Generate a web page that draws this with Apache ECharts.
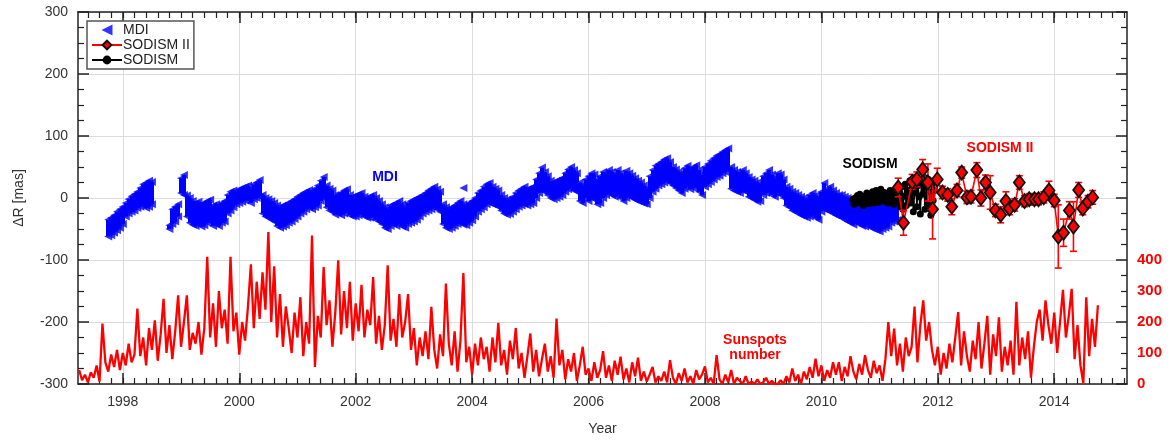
<!DOCTYPE html>
<html>
<head>
<meta charset="utf-8">
<script src="https://cdn.jsdelivr.net/npm/echarts@6/dist/echarts.min.js"></script>
<style>
html,body{margin:0;padding:0;background:#fff;}
#chart{width:1171px;height:443px;}
</style>
</head>
<body>
<div id="chart"></div>
<script>
// ---------------- DATA ----------------
// x-axis labelled years and tick values
const xLabelYears = [1998, 2000, 2002, 2004, 2006, 2008, 2010, 2012, 2014];
const sunLabelValues = [0, 100, 200, 300, 400];

// MDI band (upper / lower envelope of the dense MDI points), mas, sampled every 0.05 yr from 1997.75
const mdiStart = 1997.75;
const mdiStep = 0.05;
const mdiUpper = [
  -35,-32,-28,-22,-18,-14,-8,-2,3,6,10,16,22,24,28,26,null,null,null,null,
  null,-44,-18,-14,-10,32,37,4,0,-5,-8,-6,-10,-8,-5,-3,-12,-10,-12,-8,
  -5,5,10,12,10,14,16,18,20,15,22,25,29,5,0,-2,-5,-8,-12,-15,
  -12,-10,-8,-5,-2,2,5,8,10,13,10,15,20,28,34,20,15,12,5,5,
  8,12,14,5,2,4,6,8,2,0,3,5,0,-5,-10,-15,-18,-12,-10,-8,
  -5,-10,-15,-8,-5,-3,0,2,5,8,12,15,18,14,10,-10,-15,-18,-15,-12,
  -8,-5,-10,-12,-8,-5,0,8,12,18,22,24,18,15,12,5,0,-3,-2,2,
  8,12,15,18,14,16,18,30,40,49,42,35,28,25,28,30,32,40,46,50,
  45,40,25,20,30,35,40,38,30,35,42,40,45,42,38,45,40,35,44,40,
  36,32,28,25,20,15,35,45,52,55,58,62,64,58,50,46,42,40,48,52,
  46,50,53,45,38,50,55,60,64,68,70,74,77,80,50,45,42,40,45,40,
  34,30,28,25,22,35,40,45,38,32,40,38,30,18,15,10,8,5,2,0,
  -2,5,8,4,0,10,24,15,18,12,8,5,5,2,0,-3,-5,-5,-6,-8,
  -6,-10,-12,-9,-10,-12,-9,-10,-12,-10,-8,-12
];
const mdiLower = [
  -62,-60,-56,-52,-48,-42,-30,-25,-22,-20,-16,-14,-12,-16,-14,-10,null,null,null,null,
  null,-50,-42,-38,-30,8,5,-30,-40,-43,-45,-42,-46,-44,-40,-38,-45,-42,-45,-40,
  -38,-25,-20,-15,-10,-8,-6,-4,-2,-8,-2,0,2,-25,-30,-32,-35,-38,-45,-48,
  -46,-44,-40,-38,-34,-30,-25,-22,-18,-15,-18,-15,-12,-5,0,-15,-20,-22,-27,-25,
  -28,-25,-22,-28,-30,-30,-28,-25,-30,-32,-32,-30,-35,-38,-42,-48,-50,-45,-42,-45,
  -42,-46,-48,-42,-40,-38,-35,-30,-25,-22,-20,-18,-15,-18,-22,-42,-48,-50,-48,-45,
  -42,-40,-43,-44,-40,-36,-30,-22,-18,-15,-10,-8,-10,-12,-14,-20,-25,-27,-26,-22,
  -18,-14,-12,-10,-12,-10,-8,0,8,12,10,5,0,-2,0,2,5,10,14,16,
  12,10,-5,-8,0,-5,0,-2,-10,-8,0,5,8,5,2,5,0,-5,0,3,
  0,-3,-5,-7,-9,-10,0,10,15,20,22,25,28,24,20,16,12,8,15,20,
  14,16,18,10,5,18,22,26,30,34,36,40,42,45,15,12,10,8,12,10,
  2,0,-3,-6,-5,5,8,10,5,2,8,5,0,-12,-15,-20,-22,-25,-28,-30,
  -32,-30,-28,-32,-35,-22,-18,-20,-22,-25,-28,-30,-32,-35,-38,-40,-43,-40,-42,-45,
  -46,-44,-48,-50,-52,-54,-50,-48,-46,-40,-38,-36
];
const mdiOutlierYears = [2003.85];
const mdiOutlierValues = [16];

// SODISM (black), mas, every 0.02 yr from 2010.54
const sodStart = 2010.54;
const sodStep = 0.02;
const sodValues = [
  -2,-10,0,-8,4,-6,6,-4,2,-12,
  3,-6,8,-2,-9,5,-1,10,-8,2,
  12,0,-7,6,14,1,-5,9,-2,4,
  -8,6,12,-3,5,-10,9,0,15,-6,
  8,-14,18,-18,3,22,-12,12,-4,28,
  -8,16,-22,8,32,-14,20,2,-26,26,
  6,34,-18,18,-10,30,10,-28,22,-4,
  12
];

// SODISM II (red diamonds with error bars)
const sod2Years = [2011.32,2011.41,2011.56,2011.64,2011.74,2011.83,2011.91,2011.99,2012.08,2012.17,
  2012.24,2012.33,2012.41,2012.50,2012.57,2012.67,2012.74,2012.82,2012.90,2012.99,
  2013.08,2013.17,2013.23,2013.32,2013.40,2013.49,2013.57,2013.66,2013.73,2013.82,
  2013.91,2014.00,2014.07,2014.16,2014.26,2014.33,2014.42,2014.49,2014.58,2014.66];
const sod2Values = [17,-40,26,30,46,25,-18,30,9,5,
  -14,12,41,1,2,45,0,25,9,-20,
  -27,-5,-17,-11,25,-5,-2,-2,-2,1,
  12,-4,-62,-56,-20,-46,13,-17,-6,1];
const sod2Errors = [15,20,12,12,16,30,48,18,10,10,
  13,10,9,10,10,12,13,12,27,10,
  13,15,10,10,11,9,9,9,9,9,
  15,10,51,22,14,40,12,10,10,11];

// Sunspot number, every 0.05 yr from 1997.25
const sunStart = 1997.25;
const sunStep = 0.05;
const sunValues = [
  45,12,30,5,38,20,60,8,195,70,40,95,55,110,45,100,60,130,70,95,
  243,90,150,60,180,110,205,75,160,275,100,190,80,170,286,120,200,286,110,165,
  130,200,95,180,410,150,260,120,300,180,240,130,410,170,230,95,200,140,250,386,
  180,330,210,360,240,490,200,380,150,290,120,250,180,100,230,150,280,90,200,130,
  479,55,220,150,377,190,270,120,230,399,160,300,180,330,140,260,170,320,150,240,
  190,345,130,220,110,190,383,140,210,120,290,150,200,290,110,180,60,150,90,170,
  80,249,110,50,160,90,324,130,60,170,40,140,358,70,120,30,130,60,150,80,
  120,40,150,70,197,60,110,30,140,80,180,50,100,20,90,163,40,110,25,80,
  130,40,90,20,211,60,110,15,80,40,100,10,60,120,30,50,10,70,20,45,
  106,20,60,10,75,30,88,15,50,5,70,25,85,10,40,8,30,55,5,25,
  10,40,5,77,20,0,35,10,50,5,25,0,45,15,30,57,5,20,0,93,
  15,0,30,5,45,0,20,10,0,25,0,8,0,15,0,5,20,0,10,0,
  0,12,0,25,5,50,10,30,0,40,15,55,20,82,25,60,10,45,20,70,
  30,70,10,55,25,90,40,15,65,30,93,45,20,75,35,60,10,80,200,90,
  179,60,130,40,150,90,120,250,70,190,270,140,200,110,60,120,30,100,50,130,
  70,150,232,60,170,90,40,140,80,200,50,130,220,30,160,90,215,40,120,60,
  140,30,265,60,150,80,170,20,120,200,240,140,270,190,130,230,100,200,304,150,
  220,307,80,190,60,2,280,90,210,120,254
];

// ---------------- BUILD ----------------
const r4 = v => Math.round(v * 10000) / 10000;
const mdiBand = [];
const mdiPts = [];
mdiUpper.forEach((u, i) => {
  const lo = mdiLower[i];
  if (u === null || lo === null) return;
  const yr = r4(mdiStart + i * mdiStep);
  mdiBand.push([yr, u, lo]);
  mdiPts.push([yr, u]);
  mdiPts.push([yr, lo]);
});
mdiOutlierYears.forEach((y, i) => mdiPts.push([y, mdiOutlierValues[i]]));

const sodData = sodValues.map((v, i) => [r4(sodStart + i * sodStep), v]);
const sod2Data = sod2Years.map((y, i) => [y, sod2Values[i]]);
const sod2ErrData = sod2Years.map((y, i) => [y, sod2Values[i], sod2Errors[i]]);
const sunData = sunValues.map((v, i) => [r4(sunStart + i * sunStep), v]);

const xMinorTicks = [];
for (let k = 0; k < 100; k++) {
  const v = Math.round((1997.4 + 0.2 * k) * 10) / 10;
  if (v <= 2015.2) xMinorTicks.push(v);
}

const X_MIN = 1997.23, X_MAX = 2015.25;
const AX = '#222';
const TXT = '#333';
const FONT = "'Liberation Sans', Arial, sans-serif";
const triPath = 'path://M0,5 L10,0 L10,10 Z';

const chart = echarts.init(document.getElementById('chart'), null, {renderer: 'canvas'});

function baseX(extra) {
  return Object.assign({
    type: 'value', min: X_MIN, max: X_MAX, gridIndex: 0,
    axisLine: {show: false, onZero: false},
    axisTick: {show: false},
    axisLabel: {show: false},
    splitLine: {show: false}
  }, extra);
}

const option = {
  animation: false,
  backgroundColor: '#fff',
  textStyle: {fontFamily: FONT},
  grid: {left: 78, right: 44, top: 12, bottom: 59, containLabel: false, outerBoundsMode: 'none'},
  legend: {
    show: true,
    orient: 'vertical',
    left: 87, top: 21,
    padding: [2, 4, 2, 4],
    itemGap: 1,
    itemWidth: 30,
    itemHeight: 11,
    backgroundColor: '#fff',
    borderColor: '#555',
    borderWidth: 1.5,
    borderRadius: 0,
    textStyle: {fontSize: 14, color: '#222', fontFamily: FONT, lineHeight: 14, padding: [0, 0, 0, -4]},
    data: ['MDI', 'SODISM II', 'SODISM']
  },
  xAxis: [
    baseX({
      position: 'bottom',
      name: 'Year', nameLocation: 'middle', nameGap: 38,
      nameTextStyle: {fontSize: 14, color: TXT, fontFamily: FONT},
      axisLine: {show: true, onZero: false, lineStyle: {color: AX, width: 1.5}},
      axisTick: {show: true, inside: true, length: 11, customValues: xLabelYears, lineStyle: {color: AX, width: 1.5}},
      axisLabel: {show: true, customValues: xLabelYears, margin: 11, fontSize: 14, color: TXT, fontFamily: FONT,
        formatter: v => String(Math.round(v))},
      splitLine: {show: true, lineStyle: {color: '#dcdcdc', width: 1}}
    }),
    baseX({
      position: 'bottom',
      axisTick: {show: true, inside: true, length: 6, customValues: xMinorTicks, lineStyle: {color: AX, width: 1.2}}
    }),
    baseX({
      position: 'top',
      axisLine: {show: true, onZero: false, lineStyle: {color: AX, width: 1.5}},
      axisTick: {show: true, inside: true, length: 11, customValues: xLabelYears, lineStyle: {color: AX, width: 1.5}}
    }),
    baseX({
      position: 'top',
      axisTick: {show: true, inside: true, length: 6, customValues: xMinorTicks, lineStyle: {color: AX, width: 1.2}}
    })
  ],
  yAxis: [
    {
      type: 'value', position: 'left', min: -300, max: 300, interval: 100,
      name: 'ΔR [mas]', nameLocation: 'middle', nameGap: 52, nameRotate: 90,
      nameTextStyle: {fontSize: 14, color: TXT, fontFamily: FONT},
      axisLine: {show: true, onZero: false, lineStyle: {color: AX, width: 1.5}},
      axisTick: {show: true, inside: true, length: 11, lineStyle: {color: AX, width: 1.5}},
      minorTick: {show: true, splitNumber: 4, length: 6, lineStyle: {color: AX, width: 1.2}},
      axisLabel: {margin: 10, fontSize: 14, color: TXT, fontFamily: FONT},
      splitLine: {show: true, lineStyle: {color: '#dcdcdc', width: 1}}
    },
    {
      type: 'value', position: 'right', min: 0, max: 1200, interval: 100,
      axisLine: {show: false, onZero: false},
      axisTick: {show: false},
      axisLabel: {show: true, margin: 10, fontSize: 15, fontWeight: 'bold', color: '#ff0000', fontFamily: FONT,
        formatter: v => (sunLabelValues.indexOf(Math.round(v)) >= 0 ? String(Math.round(v)) : '')},
      splitLine: {show: false}
    },
    {
      type: 'value', position: 'right', min: -300, max: 300, interval: 100,
      axisLine: {show: true, onZero: false, lineStyle: {color: AX, width: 1.5}},
      axisTick: {show: true, inside: true, length: 11, lineStyle: {color: AX, width: 1.5}},
      minorTick: {show: true, splitNumber: 4, length: 6, lineStyle: {color: AX, width: 1.2}},
      axisLabel: {show: false},
      splitLine: {show: false}
    }
  ],
  series: [
    {
      name: 'Sunspots',
      type: 'line',
      xAxisIndex: 0, yAxisIndex: 1,
      data: sunData,
      showSymbol: false, symbol: 'none',
      lineStyle: {color: '#ff0000', width: 2.3},
      z: 1,
      silent: true
    },
    {
      name: 'MDI band',
      type: 'custom',
      xAxisIndex: 0, yAxisIndex: 0,
      data: mdiBand,
      encode: {x: 0, y: [1, 2]},
      renderItem: function (params, api) {
        const x = api.value(0), hi = api.value(1), lo = api.value(2);
        const p1 = api.coord([x - mdiStep / 2, hi]);
        const p2 = api.coord([x + mdiStep / 2, lo]);
        return {type: 'rect', shape: {x: Math.floor(p1[0]), y: p1[1], width: Math.ceil(p2[0] - p1[0]) + 1, height: p2[1] - p1[1]},
          style: {fill: '#0000ff'}};
      },
      z: 2,
      silent: true
    },
    {
      name: 'MDI',
      type: 'scatter',
      xAxisIndex: 0, yAxisIndex: 0,
      data: mdiPts,
      symbol: triPath,
      symbolSize: [8, 8],
      itemStyle: {color: '#0000ff'},
      z: 3,
      silent: true
    },
    {
      name: 'SODISM',
      type: 'line',
      xAxisIndex: 0, yAxisIndex: 0,
      data: sodData,
      symbol: 'circle', symbolSize: 7, showSymbol: true,
      itemStyle: {color: '#000'},
      lineStyle: {color: '#000', width: 1.5},
      z: 4,
      silent: true
    },
    {
      name: 'SODISM II err',
      type: 'custom',
      xAxisIndex: 0, yAxisIndex: 0,
      data: sod2ErrData,
      encode: {x: 0, y: 1},
      renderItem: function (params, api) {
        const x = api.value(0), v = api.value(1), e = api.value(2);
        const t = api.coord([x, v + e]);
        const b = api.coord([x, v - e]);
        const hw = 3.5;
        const st = {stroke: '#ff0000', lineWidth: 1.6};
        return {type: 'group', children: [
          {type: 'line', shape: {x1: t[0], y1: t[1], x2: b[0], y2: b[1]}, style: st},
          {type: 'line', shape: {x1: t[0] - hw, y1: t[1], x2: t[0] + hw, y2: t[1]}, style: st},
          {type: 'line', shape: {x1: b[0] - hw, y1: b[1], x2: b[0] + hw, y2: b[1]}, style: st}
        ]};
      },
      z: 5,
      silent: true
    },
    {
      name: 'SODISM II',
      type: 'line',
      xAxisIndex: 0, yAxisIndex: 0,
      data: sod2Data,
      symbol: 'diamond', symbolSize: [11, 14], showSymbol: true,
      itemStyle: {color: '#ff0000', borderColor: '#111', borderWidth: 1.8},
      lineStyle: {color: '#ff0000', width: 1.6},
      z: 6,
      silent: true
    }
  ],
  graphic: [
    {type: 'text', x: 385, y: 177, style: {text: 'MDI', textAlign: 'center', textVerticalAlign: 'middle', font: "bold 14px 'Liberation Sans', Arial", fill: '#0000ff'}},
    {type: 'text', x: 870, y: 164, style: {text: 'SODISM', textAlign: 'center', textVerticalAlign: 'middle', font: "bold 14px 'Liberation Sans', Arial", fill: '#000'}},
    {type: 'text', x: 1000, y: 148, style: {text: 'SODISM II', textAlign: 'center', textVerticalAlign: 'middle', font: "bold 14px 'Liberation Sans', Arial", fill: '#ff0000'}},
    {type: 'text', x: 755, y: 340, style: {text: 'Sunspots', textAlign: 'center', textVerticalAlign: 'middle', font: "bold 14px 'Liberation Sans', Arial", fill: '#ff0000'}},
    {type: 'text', x: 755, y: 355, style: {text: 'number', textAlign: 'center', textVerticalAlign: 'middle', font: "bold 14px 'Liberation Sans', Arial", fill: '#ff0000'}}
  ]
};
chart.setOption(option);
</script>
</body>
</html>
